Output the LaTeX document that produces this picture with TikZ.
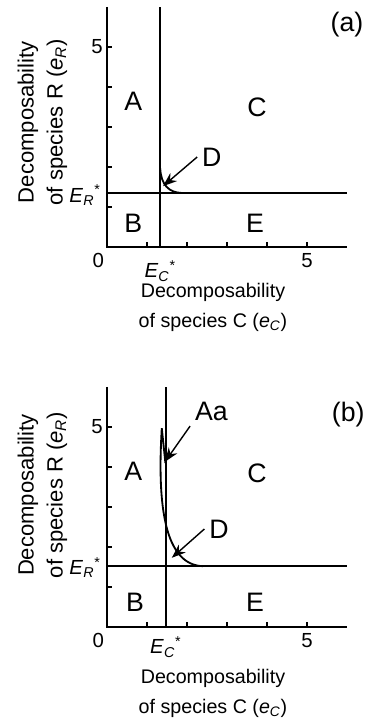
\documentclass[tikz,border=0pt]{standalone}
\usepackage{fontspec}
\setmainfont{Liberation Sans}
\usetikzlibrary{arrows.meta}

\newcommand{\estar}[1]{\textit{E}\textsubscript{\textit{#1}}\textsuperscript{*}}

\begin{document}
\begin{tikzpicture}[>={Stealth[length=3.5mm,width=2.6mm]},
  axis/.style={line width=1.3pt},
  region/.style={font=\fontsize{19}{22}\selectfont},
  lab/.style={font=\fontsize{14.5}{21}\selectfont, align=center},
  xlab/.style={font=\fontsize{14}{21.3}\selectfont, align=center},
  ylab/.style={font=\fontsize{15.7}{20.6}\selectfont, align=center, rotate=90},
  pointer/.style={->, line width=1pt}]
\useasboundingbox (-2.675,-2.3) rectangle (6.525,15.675);

% panel (a)
\begin{scope}[yshift=9.5cm]
\draw[axis] (0,6) -- (0,0) -- (6,0);
\foreach \i in {1,...,5} {
  \draw[axis] (\i,0) -- ++(0,0.13);
  \draw[axis] (0,\i) -- ++(0.13,0);
}
\draw[axis] (1.33,0) -- (1.33,6);
\draw[axis] (0,1.35) -- (6,1.35);
\draw[axis] (1.33,1.97) .. controls (1.35,1.55) and (1.55,1.36) .. (1.87,1.35);
\coordinate (a-tip) at (1.4,1.52);

\node[region] (a-A) at (0.66,3.63) {A};
\node[region] (a-C) at (3.75,3.5) {C};
\node[region] (a-B) at (0.66,0.58) {B};
\node[region] (a-E) at (3.7,0.58) {E};
\node[region] (a-D) at (2.62,2.25) {D};
\node[region] (a-tag) at (6.0,5.55) {(a)};
\draw[pointer] (a-D.west) -- (a-tip);

\node[lab] (a-x0) at (-0.22,-0.33) {0};
\node[lab] (a-x5) at (5,-0.33) {5};
\node[lab] (a-y5) at (-0.25,5) {5};
\node[lab] (a-ec) at (1.33,-0.6) {\estar{C}};
\node[lab] (a-er) at (-0.55,1.3) {\estar{R}};
\node[xlab] (a-xl) at (2.65,-1.52) {Decomposability\\of species C (\textit{e}\textsubscript{\textit{C}})};
\node[ylab] (a-yl) at (-1.615,3.12) {Decomposability\\of species R (\textit{e}\textsubscript{\textit{R}})};
\end{scope}

% panel (b)
\draw[axis] (0,6) -- (0,0) -- (6,0);
\foreach \i in {1,...,5} {
  \draw[axis] (\i,0) -- ++(0,0.13);
  \draw[axis] (0,\i) -- ++(0.13,0);
}
\draw[axis] (1.47,0) -- (1.47,6);
\draw[axis] (0,1.52) -- (6,1.52);
\draw[axis] (1.46,4.1) -- (1.37,4.97) .. controls (1.25,3.0) and (1.45,1.55) .. (2.4,1.52);
\coordinate (b-tipAa) at (1.45,4.13);
\coordinate (b-tipD) at (1.62,1.73);

\node[region] (b-A) at (0.66,3.88) {A};
\node[region] (b-C) at (3.75,3.85) {C};
\node[region] (b-B) at (0.7,0.62) {B};
\node[region] (b-E) at (3.7,0.62) {E};
\node[region] (b-D) at (2.8,2.45) {D};
\node[region] (b-Aa) at (2.61,5.38) {Aa};
\node[region] (b-tag) at (6.03,5.3) {(b)};
\draw[pointer] (b-Aa.south west) -- (b-tipAa);
\draw[pointer] (b-D.west) -- (b-tipD);

\node[lab] (b-x0) at (-0.22,-0.33) {0};
\node[lab] (b-x5) at (5,-0.33) {5};
\node[lab] (b-y5) at (-0.25,5) {5};
\node[lab] (b-ec) at (1.47,-0.5) {\estar{C}};
\node[lab] (b-er) at (-0.55,1.48) {\estar{R}};
\node[xlab] (b-xl) at (2.65,-1.66) {Decomposability\\of species C (\textit{e}\textsubscript{\textit{C}})};
\node[ylab] (b-yl) at (-1.615,3.3) {Decomposability\\of species R (\textit{e}\textsubscript{\textit{R}})};
\end{tikzpicture}
\end{document}
